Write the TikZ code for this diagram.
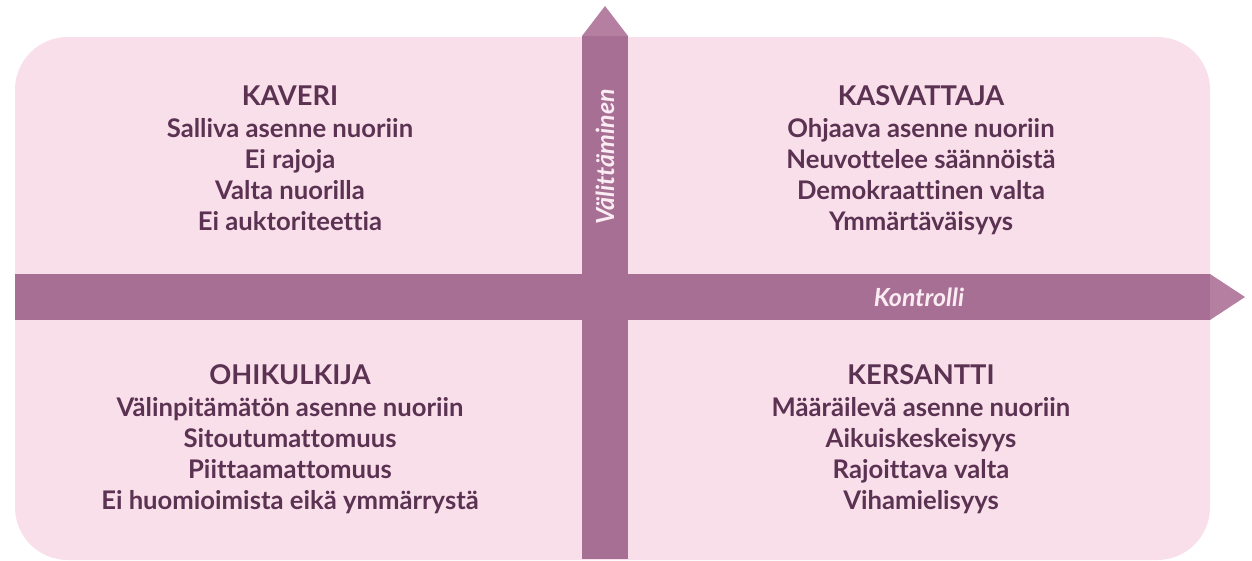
\documentclass[tikz,border=0pt]{standalone}
\usepackage{fontspec}
\setmainfont{Lato}[Ligatures=NoCommon]
\definecolor{paper}{HTML}{F9DFEA}
\definecolor{bar}{HTML}{A66F93}
\definecolor{barhead}{HTML}{B47FA1}
\definecolor{ink}{HTML}{5B3252}
\tikzset{
  title/.style={anchor=base, font=\fontsize{15.5}{18}\selectfont\bfseries, text=ink},
  line/.style={anchor=base, font=\fontsize{14.6}{17}\selectfont\bfseries, text=ink},
  axis/.style={font=\fontsize{14.2}{16}\selectfont\bfseries\itshape, text=paper!60!white}
}
\begin{document}
\begin{tikzpicture}[x=0.02cm, y=-0.02cm]
			%%%%% START %%%%%
			\useasboundingbox (0, 0) rectangle (1252, 561);
			
			\fill[paper, rounded corners=30] (15, 37) rectangle (1210, 560);
			
			% vertical axis
			\fill[bar] (582, 559) -- (582, 36) -- (628, 36) -- (628, 559) -- cycle;
			\fill[barhead] (582, 36) -- (605, 6) -- (628, 36) -- cycle;
			
			% horizontal axis
			\fill[bar] (15, 274) -- (1210, 274) -- (1210, 320) -- (15, 320) -- cycle;
			\fill[barhead] (1210, 274) -- (1245, 297) -- (1210, 320) -- cycle;
			
			\node[axis, rotate=90] (valittaminen) at (605, 157) {Välittäminen};
			\node[axis] (kontrolli) at (919, 297) {Kontrolli};
			
			% top left
			\node[title] (kaveri) at (290, 105) {KAVERI};
			\node[line] (kaveri1) at (290, 137) {Salliva asenne nuoriin};
			\node[line] (kaveri2) at (290, 168) {Ei rajoja};
			\node[line] (kaveri3) at (290, 199) {Valta nuorilla};
			\node[line] (kaveri4) at (290, 230) {Ei auktoriteettia};
			
			% top right
			\node[title] (kasvattaja) at (921, 105) {KASVATTAJA};
			\node[line] (kasvattaja1) at (921, 137) {Ohjaava asenne nuoriin};
			\node[line] (kasvattaja2) at (921, 168) {Neuvottelee säännöistä};
			\node[line] (kasvattaja3) at (921, 199) {Demokraattinen valta};
			\node[line] (kasvattaja4) at (921, 230) {Ymmärtäväisyys};
			
			% bottom left
			\node[title] (ohikulkija) at (290, 384) {OHIKULKIJA};
			\node[line] (ohikulkija1) at (290, 416) {Välinpitämätön asenne nuoriin};
			\node[line] (ohikulkija2) at (290, 447) {Sitoutumattomuus};
			\node[line] (ohikulkija3) at (290, 478) {Piittaamattomuus};
			\node[line] (ohikulkija4) at (290, 509) {Ei huomioimista eikä ymmärrystä};
			
			% bottom right
			\node[title] (kersantti) at (921, 384) {KERSANTTI};
			\node[line] (kersantti1) at (921, 416) {Määräilevä asenne nuoriin};
			\node[line] (kersantti2) at (921, 447) {Aikuiskeskeisyys};
			\node[line] (kersantti3) at (921, 478) {Rajoittava valta};
			\node[line] (kersantti4) at (921, 509) {Vihamielisyys};
			%%%%% END %%%%%
\end{tikzpicture}
\end{document}
